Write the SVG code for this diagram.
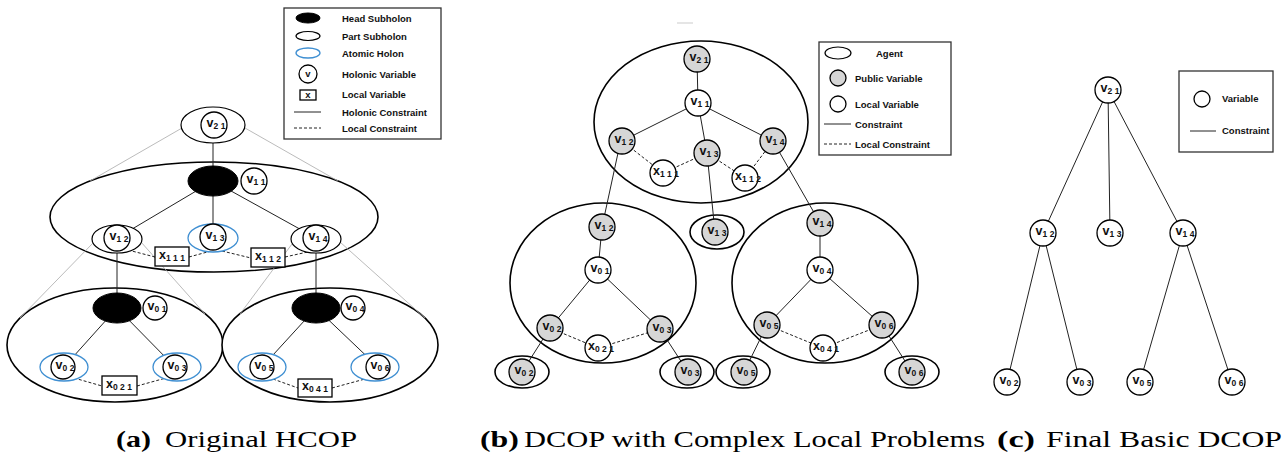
<svg xmlns="http://www.w3.org/2000/svg" width="1285" height="461" viewBox="0 0 1285 461">
<style>
.bg{fill:#fff}
.big{fill:#fff;stroke:#000;stroke-width:1.6}
.el{fill:#fff;stroke:#000;stroke-width:1.2}
.head{fill:#000;stroke:#000}
.blue{fill:#fff;stroke:#3f8fd2;stroke-width:1.3}
.c{fill:#fff;stroke:#000;stroke-width:1.3}
.p{fill:#d6d6d6;stroke:#000;stroke-width:1.3}
.box{fill:#fff;stroke:#000;stroke-width:1.3}
.ln{stroke:#222;stroke-width:1;fill:none}
.dl{stroke:#222;stroke-width:1;stroke-dasharray:3,2;fill:none}
.gl{stroke:#aaa;stroke-width:0.8;fill:none}
.lb{font-family:"Liberation Sans",Arial,sans-serif;font-size:12.5px;font-weight:bold;text-anchor:middle;fill:#111}
.s{font-size:8.5px}
.lg{font-family:"Liberation Sans",Arial,sans-serif;font-size:9.5px;font-weight:bold;fill:#111}
.lgb{fill:#fff;stroke:#333;stroke-width:1.3}
.cap{font-family:"Liberation Serif","Times New Roman",serif;font-size:23px;fill:#000}
.capb{font-family:"Liberation Serif","Times New Roman",serif;font-size:24px;font-weight:bold;fill:#000}
</style>
<rect class="bg" x="0" y="0" width="1285" height="461"/>

<!-- ===== Panel (a) ===== -->
<g id="a-holons">
  <ellipse class="big" cx="214" cy="217" rx="164" ry="55"/>
  <ellipse class="big" cx="115" cy="345" rx="108" ry="57"/>
  <ellipse class="big" cx="330" cy="345" rx="108" ry="57"/>
</g>
<g id="a-connectors">
  <line class="gl" x1="182" y1="128" x2="90" y2="181"/>
  <line class="gl" x1="245" y1="128" x2="338" y2="181"/>
  <line class="gl" x1="93" y1="243" x2="20" y2="318"/>
  <line class="gl" x1="141" y1="242" x2="205" y2="314"/>
  <line class="gl" x1="292" y1="244" x2="240" y2="314"/>
  <line class="gl" x1="340" y1="242" x2="425" y2="318"/>
  <line class="ln" x1="213" y1="138" x2="213" y2="167"/>
  <line class="ln" x1="213" y1="181" x2="117" y2="238"/>
  <line class="ln" x1="213" y1="181" x2="213" y2="237"/>
  <line class="ln" x1="213" y1="181" x2="316" y2="238"/>
  <line class="dl" x1="128" y1="250" x2="155" y2="257"/>
  <line class="dl" x1="189" y1="257" x2="211" y2="251"/>
  <line class="dl" x1="222" y1="251" x2="251" y2="258"/>
  <line class="dl" x1="285" y1="257" x2="312" y2="251"/>
  <line class="ln" x1="117" y1="251" x2="117" y2="308"/>
  <line class="ln" x1="316" y1="251" x2="316" y2="308"/>
  <line class="ln" x1="117" y1="308" x2="64" y2="367"/>
  <line class="ln" x1="117" y1="308" x2="175" y2="367"/>
  <line class="ln" x1="316" y1="308" x2="262" y2="367"/>
  <line class="ln" x1="316" y1="308" x2="378" y2="367"/>
  <line class="dl" x1="74" y1="378" x2="102" y2="386"/>
  <line class="dl" x1="137" y1="386" x2="166" y2="378"/>
  <line class="dl" x1="273" y1="379" x2="298" y2="388"/>
  <line class="dl" x1="332" y1="388" x2="365" y2="379"/>
</g>
<g id="a-v21"><ellipse class="el" cx="213" cy="125" rx="32" ry="18"/><circle class="c" cx="214" cy="125" r="13"/><text class="lb" x="216" y="127">v<tspan class="s" dy="2">2 1</tspan></text></g>
<g id="a-head1"><ellipse class="head" cx="213" cy="181" rx="25" ry="15"/></g>
<g id="a-v11"><circle class="c" cx="254" cy="181" r="13"/><text class="lb" x="256" y="183">v<tspan class="s" dy="2">1 1</tspan></text></g>
<g id="a-v12"><ellipse class="el" cx="117" cy="239" rx="25" ry="14"/><circle class="c" cx="117" cy="238" r="13"/><text class="lb" x="119" y="240">v<tspan class="s" dy="2">1 2</tspan></text></g>
<g id="a-v13"><ellipse class="blue" cx="213" cy="238" rx="25" ry="14"/><circle class="c" cx="213" cy="237" r="13"/><text class="lb" x="215" y="239">v<tspan class="s" dy="2">1 3</tspan></text></g>
<g id="a-v14"><ellipse class="el" cx="316" cy="239" rx="25" ry="14"/><circle class="c" cx="316" cy="238" r="13"/><text class="lb" x="318" y="240">v<tspan class="s" dy="2">1 4</tspan></text></g>
<g id="a-x111"><rect class="box" x="155" y="247" width="34" height="19"/><text class="lb" x="172" y="259">x<tspan class="s" dy="2">1 1 1</tspan></text></g>
<g id="a-x112"><rect class="box" x="251" y="248" width="34" height="19"/><text class="lb" x="268" y="260">x<tspan class="s" dy="2">1 1 2</tspan></text></g>
<g id="a-head0l"><ellipse class="head" cx="117" cy="308" rx="24" ry="15"/></g>
<g id="a-v01"><circle class="c" cx="155" cy="308" r="12"/><text class="lb" x="157" y="310">v<tspan class="s" dy="2">0 1</tspan></text></g>
<g id="a-v02"><ellipse class="blue" cx="64" cy="367" rx="24" ry="14"/><circle class="c" cx="63" cy="367" r="12"/><text class="lb" x="65" y="369">v<tspan class="s" dy="2">0 2</tspan></text></g>
<g id="a-v03"><ellipse class="blue" cx="177" cy="367" rx="24" ry="14"/><circle class="c" cx="175" cy="367" r="12"/><text class="lb" x="177" y="369">v<tspan class="s" dy="2">0 3</tspan></text></g>
<g id="a-x021"><rect class="box" x="102" y="376" width="35" height="19"/><text class="lb" x="119" y="388">x<tspan class="s" dy="2">0 2 1</tspan></text></g>
<g id="a-head0r"><ellipse class="head" cx="316" cy="308" rx="24" ry="15"/></g>
<g id="a-v04"><circle class="c" cx="353" cy="308" r="12"/><text class="lb" x="355" y="310">v<tspan class="s" dy="2">0 4</tspan></text></g>
<g id="a-v05"><ellipse class="blue" cx="262" cy="367" rx="24" ry="14"/><circle class="c" cx="262" cy="367" r="12"/><text class="lb" x="264" y="369">v<tspan class="s" dy="2">0 5</tspan></text></g>
<g id="a-v06"><ellipse class="blue" cx="375" cy="367" rx="24" ry="14"/><circle class="c" cx="378" cy="367" r="12"/><text class="lb" x="380" y="369">v<tspan class="s" dy="2">0 6</tspan></text></g>
<g id="a-x041"><rect class="box" x="298" y="379" width="34" height="18"/><text class="lb" x="315" y="390">x<tspan class="s" dy="2">0 4 1</tspan></text></g>

<g id="a-legend">
  <rect class="lgb" x="284" y="8" width="157" height="131"/>
  <ellipse class="head" cx="308" cy="18" rx="12" ry="5"/>
  <ellipse class="el" cx="308" cy="36" rx="12" ry="4.5" stroke-width="0.8"/>
  <ellipse class="blue" cx="308" cy="53" rx="12" ry="5"/>
  <circle class="c" cx="308" cy="74" r="9" stroke-width="1"/>
  <text class="lg" x="308" y="77" text-anchor="middle" font-size="8.5">v</text>
  <rect class="box" x="300" y="90" width="16" height="10" stroke-width="1"/>
  <text class="lg" x="308" y="98" text-anchor="middle" font-size="8.5">x</text>
  <line class="ln" x1="294" y1="112" x2="321" y2="112"/>
  <line class="dl" x1="294" y1="128" x2="321" y2="128" stroke-dasharray="2,1.5"/>
  <text class="lg" x="342" y="22">Head Subholon</text>
  <text class="lg" x="342" y="40">Part Subholon</text>
  <text class="lg" x="342" y="57">Atomic Holon</text>
  <text class="lg" x="342" y="78">Holonic Variable</text>
  <text class="lg" x="342" y="98">Local Variable</text>
  <text class="lg" x="342" y="116">Holonic Constraint</text>
  <text class="lg" x="342" y="132">Local Constraint</text>
</g>

<!-- ===== Panel (b) ===== -->
<line x1="677" y1="23" x2="693" y2="23" stroke="#ddd" stroke-width="1.5"/>
<g id="b-agents">
  <ellipse class="big" cx="701" cy="122" rx="107" ry="81"/>
  <ellipse class="big" cx="603" cy="283" rx="93" ry="80"/>
  <ellipse class="big" cx="825" cy="283" rx="93" ry="80"/>
  <ellipse class="big" cx="717" cy="232" rx="27" ry="17"/>
  <ellipse class="big" cx="522" cy="372" rx="27" ry="16"/>
  <ellipse class="big" cx="687" cy="372" rx="27" ry="16"/>
  <ellipse class="big" cx="743" cy="372" rx="27" ry="16"/>
  <ellipse class="big" cx="912" cy="372" rx="27" ry="16"/>
</g>
<g id="b-connectors">
  <line class="ln" x1="697" y1="59" x2="698" y2="103"/>
  <line class="ln" x1="698" y1="103" x2="622" y2="141"/>
  <line class="ln" x1="698" y1="103" x2="707" y2="153"/>
  <line class="ln" x1="698" y1="103" x2="773" y2="141"/>
  <line class="dl" x1="622" y1="141" x2="663" y2="173"/>
  <line class="dl" x1="663" y1="173" x2="707" y2="153"/>
  <line class="dl" x1="707" y1="153" x2="745" y2="178"/>
  <line class="dl" x1="745" y1="178" x2="773" y2="141"/>
  <line class="ln" x1="618" y1="153" x2="602" y2="227"/>
  <line class="ln" x1="707" y1="153" x2="715" y2="232"/>
  <line class="ln" x1="773" y1="141" x2="820" y2="223"/>
  <line class="ln" x1="602" y1="227" x2="598" y2="270"/>
  <line class="ln" x1="598" y1="270" x2="550" y2="328"/>
  <line class="ln" x1="598" y1="270" x2="660" y2="329"/>
  <line class="dl" x1="550" y1="328" x2="598" y2="348"/>
  <line class="dl" x1="598" y1="348" x2="660" y2="329"/>
  <line class="ln" x1="550" y1="328" x2="522" y2="372"/>
  <line class="ln" x1="660" y1="329" x2="688" y2="372"/>
  <line class="ln" x1="820" y1="223" x2="820" y2="270"/>
  <line class="ln" x1="820" y1="270" x2="767" y2="325"/>
  <line class="ln" x1="820" y1="270" x2="882" y2="325"/>
  <line class="dl" x1="767" y1="325" x2="823" y2="348"/>
  <line class="dl" x1="823" y1="348" x2="882" y2="325"/>
  <line class="ln" x1="767" y1="325" x2="744" y2="372"/>
  <line class="ln" x1="882" y1="325" x2="912" y2="372"/>
</g>
<g id="b-v21"><circle class="p" cx="697" cy="59" r="13"/><text class="lb" x="699" y="61">v<tspan class="s" dy="2">2 1</tspan></text></g>
<g id="b-v11"><circle class="c" cx="698" cy="103" r="13"/><text class="lb" x="700" y="105">v<tspan class="s" dy="2">1 1</tspan></text></g>
<g id="b-v12"><circle class="p" cx="622" cy="141" r="13"/><text class="lb" x="624" y="143">v<tspan class="s" dy="2">1 2</tspan></text></g>
<g id="b-v13"><circle class="p" cx="707" cy="153" r="13"/><text class="lb" x="709" y="155">v<tspan class="s" dy="2">1 3</tspan></text></g>
<g id="b-v14"><circle class="p" cx="773" cy="141" r="13"/><text class="lb" x="775" y="143">v<tspan class="s" dy="2">1 4</tspan></text></g>
<g id="b-x111"><circle class="c" cx="663" cy="173" r="13"/><text class="lb" x="666" y="175">x<tspan class="s" dy="2">1 1 1</tspan></text></g>
<g id="b-x112"><circle class="c" cx="745" cy="178" r="13"/><text class="lb" x="748" y="180">x<tspan class="s" dy="2">1 1 2</tspan></text></g>
<g id="b-v13a"><circle class="p" cx="715" cy="232" r="13"/><text class="lb" x="717" y="234">v<tspan class="s" dy="2">1 3</tspan></text></g>
<g id="b-v12a"><circle class="p" cx="602" cy="227" r="13"/><text class="lb" x="604" y="229">v<tspan class="s" dy="2">1 2</tspan></text></g>
<g id="b-v01"><circle class="c" cx="598" cy="270" r="13"/><text class="lb" x="600" y="272">v<tspan class="s" dy="2">0 1</tspan></text></g>
<g id="b-v02"><circle class="p" cx="550" cy="328" r="13"/><text class="lb" x="552" y="330">v<tspan class="s" dy="2">0 2</tspan></text></g>
<g id="b-v03"><circle class="p" cx="660" cy="329" r="13"/><text class="lb" x="662" y="331">v<tspan class="s" dy="2">0 3</tspan></text></g>
<g id="b-x021"><circle class="c" cx="598" cy="348" r="13"/><text class="lb" x="601" y="350">x<tspan class="s" dy="2">0 2 1</tspan></text></g>
<g id="b-v02a"><circle class="p" cx="522" cy="372" r="13"/><text class="lb" x="524" y="374">v<tspan class="s" dy="2">0 2</tspan></text></g>
<g id="b-v03a"><circle class="p" cx="688" cy="372" r="13"/><text class="lb" x="690" y="374">v<tspan class="s" dy="2">0 3</tspan></text></g>
<g id="b-v14a"><circle class="p" cx="820" cy="223" r="13"/><text class="lb" x="822" y="225">v<tspan class="s" dy="2">1 4</tspan></text></g>
<g id="b-v04"><circle class="c" cx="820" cy="270" r="13"/><text class="lb" x="822" y="272">v<tspan class="s" dy="2">0 4</tspan></text></g>
<g id="b-v05"><circle class="p" cx="767" cy="325" r="13"/><text class="lb" x="769" y="327">v<tspan class="s" dy="2">0 5</tspan></text></g>
<g id="b-v06"><circle class="p" cx="882" cy="325" r="13"/><text class="lb" x="884" y="327">v<tspan class="s" dy="2">0 6</tspan></text></g>
<g id="b-x041"><circle class="c" cx="823" cy="348" r="13"/><text class="lb" x="826" y="350">x<tspan class="s" dy="2">0 4 1</tspan></text></g>
<g id="b-v05a"><circle class="p" cx="744" cy="372" r="13"/><text class="lb" x="746" y="374">v<tspan class="s" dy="2">0 5</tspan></text></g>
<g id="b-v06a"><circle class="p" cx="912" cy="372" r="13"/><text class="lb" x="914" y="374">v<tspan class="s" dy="2">0 6</tspan></text></g>

<g id="b-legend">
  <rect class="lgb" x="819" y="42" width="132" height="113"/>
  <ellipse class="el" cx="838" cy="53" rx="13" ry="6" stroke-width="0.8"/>
  <circle class="p" cx="838" cy="78" r="8" stroke="#777" stroke-width="0.8"/>
  <circle class="c" cx="838" cy="104" r="8" stroke="#777" stroke-width="0.8"/>
  <line class="ln" x1="824" y1="124" x2="851" y2="124" stroke="#666"/>
  <line class="dl" x1="824" y1="144" x2="851" y2="144" stroke-dasharray="3,2"/>
  <text class="lg" x="876" y="57">Agent</text>
  <text class="lg" x="855" y="82">Public Variable</text>
  <text class="lg" x="855" y="108">Local Variable</text>
  <text class="lg" x="855" y="128">Constraint</text>
  <text class="lg" x="855" y="148">Local Constraint</text>
</g>

<!-- ===== Panel (c) ===== -->
<g id="c-connectors">
  <line class="ln" x1="1108" y1="90" x2="1043" y2="233"/>
  <line class="ln" x1="1108" y1="90" x2="1110" y2="233"/>
  <line class="ln" x1="1108" y1="90" x2="1183" y2="233"/>
  <line class="ln" x1="1043" y1="233" x2="1007" y2="382"/>
  <line class="ln" x1="1043" y1="233" x2="1080" y2="382"/>
  <line class="ln" x1="1183" y1="233" x2="1140" y2="382"/>
  <line class="ln" x1="1183" y1="233" x2="1232" y2="382"/>
</g>
<g id="c-v21"><circle class="c" cx="1108" cy="90" r="13"/><text class="lb" x="1110" y="92">v<tspan class="s" dy="2">2 1</tspan></text></g>
<g id="c-v12"><circle class="c" cx="1043" cy="233" r="13"/><text class="lb" x="1045" y="235">v<tspan class="s" dy="2">1 2</tspan></text></g>
<g id="c-v13"><circle class="c" cx="1110" cy="233" r="13"/><text class="lb" x="1112" y="235">v<tspan class="s" dy="2">1 3</tspan></text></g>
<g id="c-v14"><circle class="c" cx="1183" cy="233" r="13"/><text class="lb" x="1185" y="235">v<tspan class="s" dy="2">1 4</tspan></text></g>
<g id="c-v02"><circle class="c" cx="1007" cy="382" r="13"/><text class="lb" x="1009" y="384">v<tspan class="s" dy="2">0 2</tspan></text></g>
<g id="c-v03"><circle class="c" cx="1080" cy="382" r="13"/><text class="lb" x="1082" y="384">v<tspan class="s" dy="2">0 3</tspan></text></g>
<g id="c-v05"><circle class="c" cx="1140" cy="382" r="13"/><text class="lb" x="1142" y="384">v<tspan class="s" dy="2">0 5</tspan></text></g>
<g id="c-v06"><circle class="c" cx="1232" cy="382" r="13"/><text class="lb" x="1234" y="384">v<tspan class="s" dy="2">0 6</tspan></text></g>
<g id="c-legend">
  <rect class="lgb" x="1179" y="71" width="94" height="81"/>
  <circle class="c" cx="1202" cy="99" r="8" stroke="#777" stroke-width="0.8"/>
  <line class="ln" x1="1190" y1="131" x2="1216" y2="131"/>
  <text class="lg" x="1222" y="102" font-size="9">Variable</text>
  <text class="lg" x="1222" y="134" font-size="9">Constraint</text>
</g>

<!-- ===== Captions ===== -->
<g id="captions">
  <text class="capb" x="116" y="447" textLength="35" lengthAdjust="spacingAndGlyphs">(a)</text>
  <text class="cap" x="165" y="447" textLength="192" lengthAdjust="spacingAndGlyphs">Original HCOP</text>
  <text class="capb" x="480" y="447" textLength="39" lengthAdjust="spacingAndGlyphs">(b)</text>
  <text class="cap" x="524" y="447" textLength="461" lengthAdjust="spacingAndGlyphs">DCOP with Complex Local Problems</text>
  <text class="capb" x="997" y="447" textLength="38" lengthAdjust="spacingAndGlyphs">(c)</text>
  <text class="cap" x="1046" y="447" textLength="236" lengthAdjust="spacingAndGlyphs">Final Basic DCOP</text>
</g>
</svg>
